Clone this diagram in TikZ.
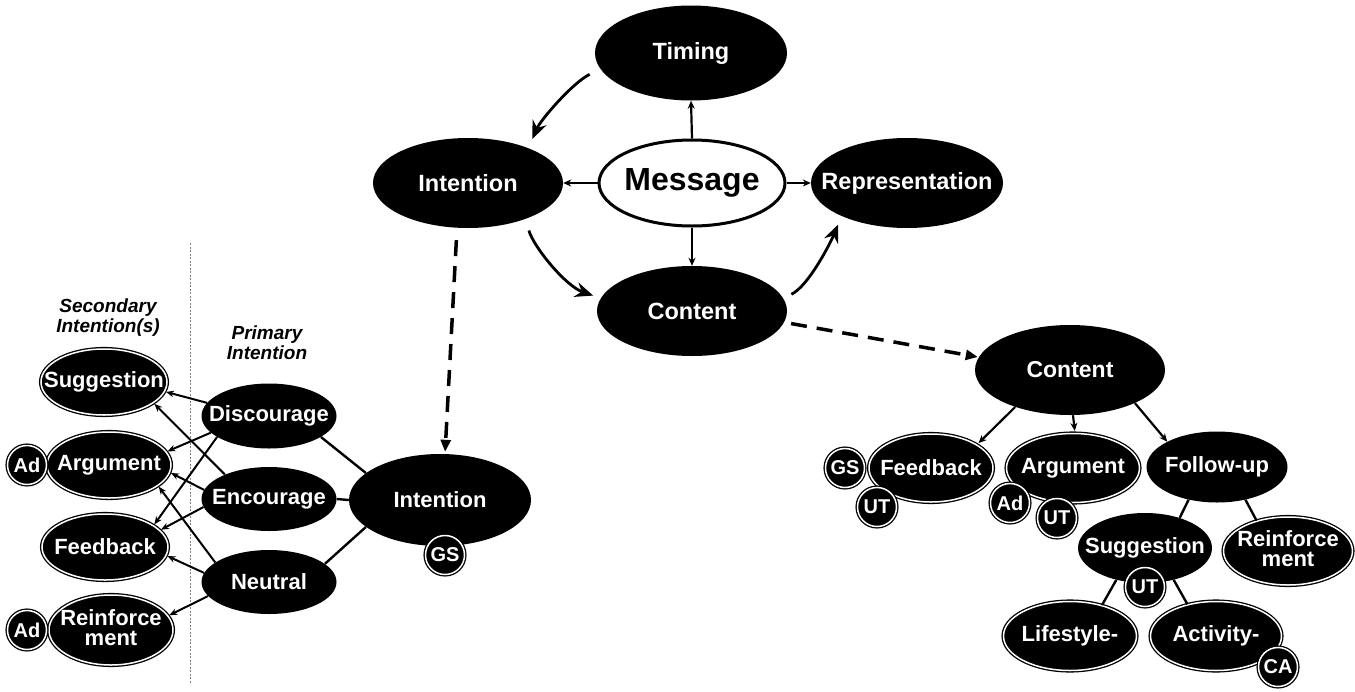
\documentclass[tikz,border=0pt]{standalone}
\usepackage{fontspec}
\setmainfont{Liberation Sans}
\usetikzlibrary{shapes.geometric,arrows.meta}
% centred text that does not widen the ellipse around it
\newcommand\tx[1]{\makebox[0pt]{#1}}
\newcommand\twolines[2]{\makebox[0pt]{\begin{tabular}{@{}c@{}}#1\\#2\end{tabular}}}
\begin{document}
\begin{tikzpicture}[x=1pt,y=-1pt,
  blk/.style={ellipse, fill=black, text=white, inner sep=0pt,
    font=\bfseries\fontsize{22}{17}\selectfont},
  big/.style={blk, font=\bfseries\fontsize{23.5}{24}\selectfont},
  dbl/.style={blk, draw=black, line width=1.3pt, double=white, double distance=1.5pt},
  badge/.style={circle, fill=black, text=white, draw=black, line width=1.3pt,
    double=white, double distance=1.5pt, inner sep=0pt, minimum size=39pt,
    font=\bfseries\fontsize{20}{20}\selectfont},
  hub/.style={ellipse, fill=white, draw=black, line width=3pt, inner sep=0pt,
    font=\bfseries\fontsize{32}{32}\selectfont},
  note/.style={font=\bfseries\itshape\fontsize{19}{20}\selectfont, align=center, inner sep=0pt},
  sarr/.style={line width=2.2pt, -{Stealth[length=8pt,width=7pt]}},
  carr/.style={line width=2.8pt, -{Stealth[length=18pt,width=15pt,inset=6pt]}},
  larr/.style={line width=2pt, -{Stealth[length=8pt,width=6.5pt]}, shorten >=1pt},
  link/.style={line width=2.4pt},
  darr/.style={line width=3.5pt, dash pattern=on 16pt off 10pt, -{Triangle[length=12pt,width=10pt]}},
  divider/.style={gray, line width=1pt, dash pattern=on 2pt off 1.5pt},
]
\useasboundingbox (0,0) rectangle (1355,691);

% ---------- message model ----------
\node[hub, minimum width=186, minimum height=86] (msg) at (692,183) {\tx{Message}};
\node[big, minimum width=192, minimum height=95] (timing) at (691,53) {\tx{Timing}};
\node[big, minimum width=190, minimum height=90] (intent) at (468,183) {\tx{Intention}};
\node[big, minimum width=192, minimum height=90] (rep) at (907,183) {\tx{Representation}};
\node[big, minimum width=190, minimum height=90] (content) at (692,311) {\tx{Content}};

\draw[sarr] (msg.north) -- (timing.south);
\draw[sarr] (msg.west) -- (intent.east);
\draw[sarr] (msg.east) -- (rep.west);
\draw[sarr] (msg.south) -- (content.north);

\draw[carr, shorten <=12pt, shorten >=10pt] (timing.190) .. controls +(-28,14) and +(12,-28) .. (intent.30);
\draw[carr, shorten <=12pt, shorten >=8pt] (intent.328) .. controls +(8,28) and +(-35,-12) .. (content.172);
\draw[carr, shorten <=9pt, shorten >=9pt] (content.8) .. controls +(25,-12) and +(-12,28) .. (rep.207);

% ---------- intention detail ----------
\node[note] (secl) at (108,318) {Secondary\\Intention(s)};
\node[note] (priml) at (267,343) {Primary\\Intention};
\draw[divider] (190,243) -- (190,683);

\node[blk, minimum width=135, minimum height=65] (disc) at (269,416) {\tx{Discourage}};
\node[blk, minimum width=135, minimum height=64] (enc) at (269,499) {\tx{Encourage}};
\node[blk, minimum width=135, minimum height=64] (neu) at (269,582) {\tx{Neutral}};
\node[blk, minimum width=182, minimum height=92] (intB) at (440,500) {\tx{Intention}};
\node[badge] (gsI) at (445,555) {GS};

\node[dbl, minimum width=126, minimum height=66] (sugL) at (104,382) {\tx{Suggestion}};
\node[dbl, minimum width=124, minimum height=66] (argL) at (109,465) {\tx{Argument}};
\node[dbl, minimum width=126, minimum height=66] (fbL) at (105,547) {\tx{Feedback}};
\node[dbl, minimum width=124, minimum height=70] (reL) at (111,630) {\twolines{Reinforce}{ment}};
\node[badge] (adA) at (27,465) {Ad};
\node[badge] (adR) at (27,630) {Ad};

\draw[link] (disc.338) -- (intB.160);
\draw[link] (enc.east) -- (intB.west);
\draw[link] (neu.18) -- (intB.200);

\draw[larr] (disc.168) -- (sugL.351);
\draw[larr] (enc.151) -- (sugL.337);
\draw[larr] (disc.196) -- (argL.13);
\draw[larr] (disc.202) -- (fbL.24);
\draw[larr] (enc.172) -- (argL.353);
\draw[larr] (enc.187) -- (fbL.17);
\draw[larr] (neu.160) -- (argL.337);
\draw[larr] (neu.172) -- (fbL.352);
\draw[larr] (neu.193) -- (reL.14);

\draw[darr, shorten <=12pt, shorten >=2pt] ([xshift=-11pt]intent.south) -- ([xshift=5pt]intB.north);

% ---------- content detail ----------
\node[blk, minimum width=190, minimum height=90, font=\bfseries\fontsize{23}{24}\selectfont] (contB) at (1070,370) {\tx{Content}};
\node[dbl, minimum width=124, minimum height=68] (fbR) at (931,468) {\tx{Feedback}};
\node[dbl, minimum width=133, minimum height=69] (argR) at (1073,468) {\tx{Argument}};
\node[blk, minimum width=141, minimum height=71] (fuR) at (1217,467) {\tx{Follow-up}};
\node[blk, minimum width=134, minimum height=70] (sugR) at (1145,548) {\tx{Suggestion}};
\node[dbl, minimum width=129, minimum height=68] (reR) at (1288,551) {\twolines{Reinforce}{ment}};
\node[dbl, minimum width=133, minimum height=69] (lifeR) at (1070,636) {\tx{Lifestyle-}};
\node[dbl, minimum width=131, minimum height=69] (actR) at (1216,636) {\tx{Activity-}};

\node[badge] (gsF) at (845,468) {GS};
\node[badge] (utF) at (877,507) {UT};
\node[badge] (adArg) at (1010,503) {Ad};
\node[badge] (utArg) at (1057,518) {UT};
\node[badge] (utSug) at (1145,587) {UT};
\node[badge] (caAct) at (1278,667) {CA};

\draw[sarr, shorten >=2pt] (contB.214) -- (fbR.27);
\draw[sarr, shorten >=2pt] ([xshift=3pt]contB.south) -- ([xshift=2pt]argR.north);
\draw[sarr] (contB.333) -- (fuR.153);
\draw[link] (fuR.229) -- (sugR.41);
\draw[link] (fuR.311) -- (reR.136);
\draw[link] (sugR.228) -- (lifeR.44);
\draw[link] (sugR.312) -- (actR.132);

\draw[darr, shorten <=7pt, shorten >=1pt] (content.353) -- (contB.172);
\end{tikzpicture}
\end{document}
